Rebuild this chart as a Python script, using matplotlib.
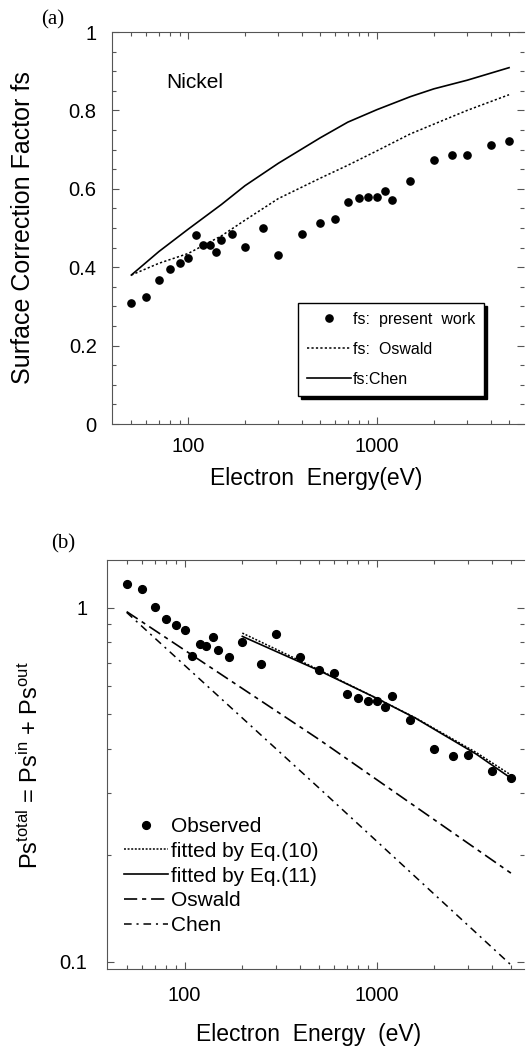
import matplotlib
matplotlib.use("Agg")
import matplotlib.pyplot as plt
from matplotlib.ticker import FixedLocator, FixedFormatter, NullFormatter

plt.rcParams["font.family"] = ["Liberation Sans", "DejaVu Sans"]
plt.rcParams["mathtext.fontset"] = "custom"
plt.rcParams["mathtext.rm"] = "Liberation Sans"
plt.rcParams["mathtext.default"] = "regular"
plt.rcParams["lines.scale_dashes"] = False

# ---- data -------------------------------------------------------------
energy = [50, 60, 70, 80, 90, 100, 110, 120, 130, 140, 150, 170, 200, 250,
          300, 400, 500, 600, 700, 800, 900, 1000, 1100, 1200, 1500, 2000,
          2500, 3000, 4000, 5000]

# (a) surface correction factor fs, present work
fs_present = [0.309, 0.323, 0.367, 0.395, 0.411, 0.423, 0.483, 0.456, 0.457,
              0.439, 0.469, 0.484, 0.451, 0.499, 0.431, 0.484, 0.514, 0.522,
              0.566, 0.577, 0.580, 0.580, 0.594, 0.572, 0.621, 0.673, 0.687,
              0.685, 0.713, 0.723]

energy_theory = [50, 70, 100, 150, 200, 300, 500, 700, 1000, 1500, 2000,
                 3000, 5000]
fs_oswald = [0.380, 0.410, 0.435, 0.480, 0.520, 0.575, 0.627, 0.660, 0.697,
             0.740, 0.765, 0.800, 0.840]
fs_chen = [0.380, 0.440, 0.497, 0.560, 0.608, 0.665, 0.730, 0.770, 0.802,
           0.835, 0.855, 0.877, 0.909]

# (b) total surface excitation probability
ps_observed = [1.169, 1.127, 1.005, 0.931, 0.892, 0.863, 0.729, 0.788, 0.779,
               0.827, 0.758, 0.727, 0.798, 0.693, 0.845, 0.727, 0.665, 0.653,
               0.571, 0.555, 0.545, 0.545, 0.525, 0.562, 0.482, 0.400, 0.380,
               0.384, 0.346, 0.330]

energy_fit = [200, 500, 1000, 1600, 3300, 5000]
ps_fit_eq10 = [0.848, 0.668, 0.555, 0.488, 0.390, 0.337]
ps_fit_eq11 = [0.830, 0.665, 0.555, 0.487, 0.386, 0.330]

energy_model = [50, 500, 5000]
ps_oswald = [0.975, 0.425, 0.178]
ps_chen = [0.970, 0.310, 0.098]

# ---- figure -----------------------------------------------------------
W, H = 530, 1051
fig = plt.figure(figsize=(W / 100, H / 100), dpi=100)


def px_axes(left, top, right, bottom):
    return fig.add_axes([left / W, 1 - bottom / H, (right - left) / W,
                         (bottom - top) / H])


def style_axes(ax):
    for side, sp in ax.spines.items():
        sp.set_linewidth(0.8)
        sp.set_color("#555555")
    ax.spines["right"].set_visible(False)
    ax.tick_params(which="both", direction="in", top=True, right=True,
                   color="#555555", width=0.8, labelsize=14.5)
    ax.tick_params(which="major", length=5, pad=9)
    ax.tick_params(which="minor", length=3)
    ax.set_xscale("log")
    ax.xaxis.set_major_locator(FixedLocator([100, 1000]))
    ax.xaxis.set_major_formatter(FixedFormatter(["100", "1000"]))
    ax.xaxis.set_minor_locator(FixedLocator(
        [50, 60, 70, 80, 90, 200, 300, 400, 500, 600, 700, 800, 900,
         2000, 3000, 4000, 5000]))
    ax.xaxis.set_minor_formatter(NullFormatter())


def place_label(ax, axis, xpx, ypx):
    # centre an axis label on a pixel location of the figure
    x0, y0, w, h = ax.get_position().bounds
    fx, fy = xpx / W, 1 - ypx / H
    axis.label.set_verticalalignment("center")
    axis.label.set_horizontalalignment("center")
    axis.label.set_rotation_mode("default")
    axis.set_label_coords((fx - x0) / w, (fy - y0) / h)


# ---- panel (a) --------------------------------------------------------
axa = px_axes(112, 32, 524, 424)
style_axes(axa)
axa.set_xlim(39.5, 6000)
axa.set_ylim(0, 1)
axa.yaxis.set_major_locator(FixedLocator([0, 0.2, 0.4, 0.6, 0.8, 1.0]))
axa.yaxis.set_major_formatter(FixedFormatter(["0", "0.2", "0.4", "0.6",
                                              "0.8", "1"]))
axa.yaxis.set_minor_locator(FixedLocator([0.05 * i for i in range(1, 20)]))
axa.tick_params(axis="y", pad=11)

axa.plot(energy, fs_present, "o", color="black", ms=5.2,
         label="fs:  present  work")
axa.plot(energy_theory, fs_oswald, color="black", lw=1.1,
         dashes=(1.6, 1.6), label="fs:  Oswald")
axa.plot(energy_theory, fs_chen, color="black", lw=1.2, label="fs:Chen")

axa.text(166 / W, 1 - 83 / H, "Nickel", transform=fig.transFigure,
         fontsize=15, ha="left", va="center")

lega = axa.legend(loc="upper left", bbox_to_anchor=(0.451, 0.309),
                  borderaxespad=0, fontsize=11.5, frameon=True, fancybox=False,
                  shadow={"color": "black", "alpha": 1.0},
                  handlelength=2.8, handletextpad=0.1, labelspacing=0.95,
                  borderpad=0.55, numpoints=1)
lega.get_frame().set_edgecolor("black")
lega.get_frame().set_linewidth(1.0)

axa.set_xlabel("Electron  Energy(eV)", fontsize=16.5)
axa.set_ylabel("Surface Correction Factor fs", fontsize=18)
place_label(axa, axa.xaxis, 316, 478)
place_label(axa, axa.yaxis, 23, 228)

fig.text(53 / W, 1 - 20 / H, "(a)", family="Liberation Serif", fontsize=15,
         ha="center", va="center")

# ---- panel (b) --------------------------------------------------------
axb = px_axes(107, 560, 524, 969)
style_axes(axb)
axb.set_xlim(39.5, 5850)
axb.set_yscale("log")
axb.set_ylim(0.0954, 1.364)
axb.yaxis.set_major_locator(FixedLocator([0.1, 1.0]))
axb.yaxis.set_major_formatter(FixedFormatter(["0.1", "1"]))
axb.yaxis.set_minor_locator(FixedLocator([0.1 * i for i in range(2, 10)]))
axb.yaxis.set_minor_formatter(NullFormatter())
axb.tick_params(axis="y", pad=14)
axb.tick_params(axis="x", pad=12)

axb.plot(energy, ps_observed, "o", color="black", ms=5.6, label="Observed")
axb.plot(energy_fit, ps_fit_eq10, color="black", lw=1.1, dashes=(1.4, 1.2),
         label="fitted by Eq.(10)")
axb.plot(energy_fit, ps_fit_eq11, color="black", lw=1.2,
         label="fitted by Eq.(11)")
axb.plot(energy_model, ps_oswald, color="black", lw=1.2,
         dashes=(9.5, 3.5, 3.0, 3.5), label="Oswald")
axb.plot(energy_model, ps_chen, color="black", lw=1.1,
         dashes=(5.5, 3.5, 1.5, 3.5), label="Chen")

legb = axb.legend(loc="upper left", bbox_to_anchor=(0.041, 0.372),
                  borderaxespad=0, fontsize=15, frameon=False,
                  handlelength=2.1, handletextpad=0.15, labelspacing=0.28,
                  borderpad=0, numpoints=1)

axb.set_xlabel("Electron  Energy  (eV)", fontsize=16.5)
axb.set_ylabel(r"Ps$^{total}$ = Ps$^{in}$ + Ps$^{out}$", fontsize=17)
place_label(axb, axb.xaxis, 309, 1035)
place_label(axb, axb.yaxis, 30, 765)

fig.text(63 / W, 1 - 544 / H, "(b)", family="Liberation Serif", fontsize=15,
         ha="center", va="center")

fig.savefig("out.png", dpi=100, facecolor="white")
